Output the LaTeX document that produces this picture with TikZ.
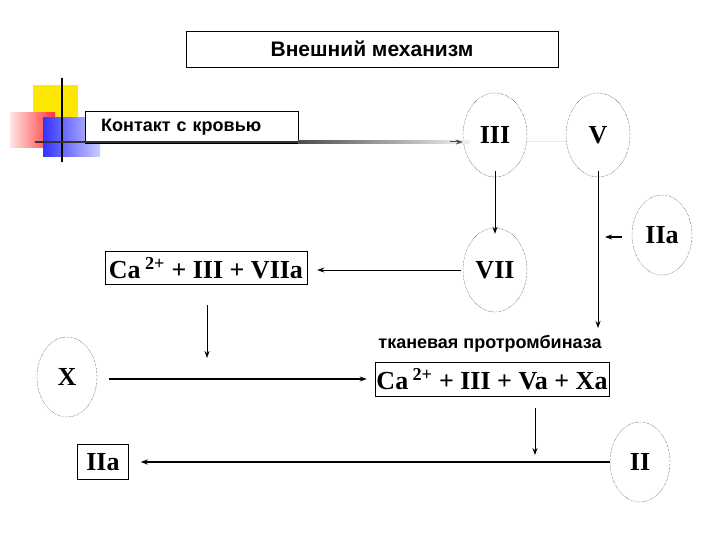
\documentclass[tikz,border=0pt]{standalone}
\usepackage{fontspec}
\setmainfont{Liberation Serif}
\newfontfamily\sansf{Liberation Sans}
\usetikzlibrary{shapes.geometric,arrows.meta}
\begin{document}
\begin{tikzpicture}[x=1pt,y=-1pt,
  circ/.style={draw,densely dotted,thin,ellipse,minimum width=64pt,minimum height=84pt,inner sep=0pt,font=\bfseries\fontsize{26}{28}\selectfont},
  box/.style={draw,thin,inner sep=0pt,font=\bfseries\fontsize{26}{28}\selectfont},
  arr/.style={line width=1.3pt,-{Stealth[length=7pt,width=5pt]}}]
\useasboundingbox (0,0) rectangle (720,540);
% decoration
\fill[yellow!90!orange] (33,85) rectangle (78,130);
\shade[left color=red!10,right color=red!80] (10,113) rectangle (55,148);
\shade[left color=blue!80,right color=blue!20] (43,118) rectangle (100,157);
\draw[line width=1.5pt] (62,78) -- (62,162);
\node[draw,thin,minimum width=372pt,minimum height=36pt,font=\sansf\bfseries\fontsize{21}{24}\selectfont] (t) at (372,49) {Внешний механизм};
\node[draw,thin,fill=white,minimum width=213pt,minimum height=32pt,font=\sansf\bfseries\fontsize{18}{20}\selectfont,anchor=north west,inner sep=0pt,align=left,text width=205pt] (k) at (85,111) {\hspace*{12pt}Контакт с кровью\\[8pt]};
\node[circ] (III) at (495,135) {III};
\node[circ] (V) at (598,135) {V};
\node[circ,minimum width=60pt,minimum height=80pt] (IIa1) at (662,235) {IIa};
\node[circ] (VII) at (495,270) {VII};
\node[box,minimum width=202pt,minimum height=33pt] (c1) at (206,268) {Ca\,\textsuperscript{2+} + III + VIIa};
\node[circ,minimum width=60pt,minimum height=80pt] (X) at (67,377) {X};
\node[font=\sansf\bfseries\fontsize{18}{20}\selectfont] (tp) at (490,344) {тканевая протромбиназа};
\node[box,minimum width=234pt,minimum height=34pt] (c2) at (492,379) {Ca\,\textsuperscript{2+} + III + Va + Xa};
\node[circ,minimum width=60pt,minimum height=80pt] (II) at (640,462) {II};
\node[box,minimum width=51pt,minimum height=35pt] (IIa2) at (103,462) {IIa};
\coordinate (a0) at (35,142);
\coordinate (a1) at (298,142);
\coordinate (c1d) at (207,305);
\coordinate (c1e) at (207,358);
\coordinate (c2d) at (535,408);
\coordinate (c2e) at (535,455);
\coordinate (Vb) at (598,328);
% connectors
\draw[line width=2pt,black!80] (a0) -- (a1);
\shade[left color=black!70,right color=black!5] (298,140.5) rectangle (470,143.5);
\draw[-{Stealth[length=7pt,width=5pt]},line width=1pt,black!70] (450,142) -- (III.west|-0,142);
\draw[line width=1pt,black!8] (III.east|-0,142) -- (V.west|-0,142);
\draw[arr,line width=1pt] ([yshift=6pt]III.south) -- ([yshift=-6pt]VII.north);
\draw[arr,line width=1pt] ([yshift=6pt]V.south) -- (Vb);
\draw[arr] ([xshift=-10pt]IIa1.west|-0,237) -- (605,237);
\draw[arr,line width=1pt] ([xshift=-2pt]VII.west) -- ([xshift=10pt]c1.east|-VII.west);
\draw[arr,line width=1pt] (c1d) -- (c1e);
\draw[arr] ([xshift=12pt]X.east|-c2.west) -- ([xshift=-8pt]c2.west);
\draw[arr,line width=1pt] (c2d) -- (c2e);
\draw[arr] (II.west) -- ([xshift=12pt]IIa2.east);
\end{tikzpicture}
\end{document}
